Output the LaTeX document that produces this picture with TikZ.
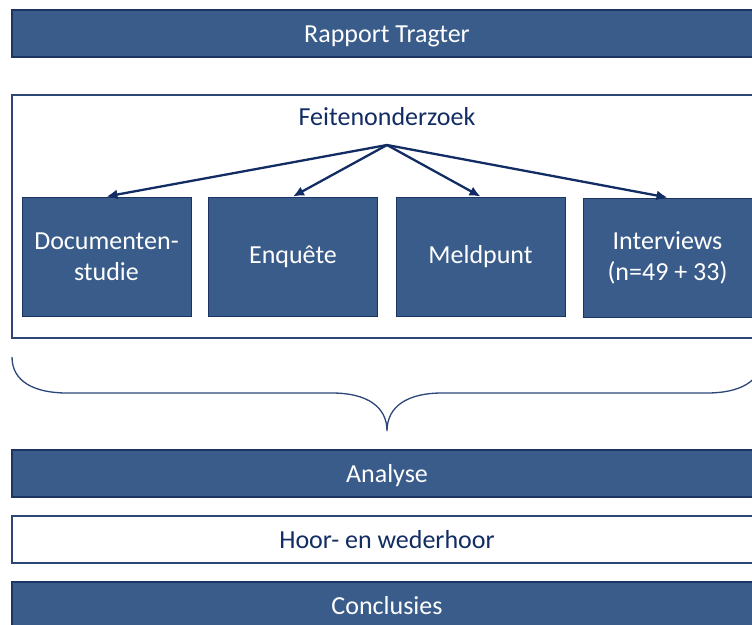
\documentclass[tikz,border=0pt]{standalone}
\usepackage{fontspec}
\setmainfont{Carlito}
\usetikzlibrary{arrows.meta}
\definecolor{boxfill}{RGB}{58,92,139}
\definecolor{boxline}{RGB}{28,52,100}
\definecolor{navy}{RGB}{18,44,100}
\definecolor{frameline}{RGB}{44,70,120}
\tikzset{
  bar/.style={draw=boxline, line width=1.3pt, fill=boxfill, text=white,
    minimum width=750pt, minimum height=47pt, inner sep=0pt,
    text height=18pt, text depth=1pt,
    font=\fontsize{26}{31}\selectfont},
  wbar/.style={draw=frameline, line width=1.3pt, fill=white, text=navy,
    minimum width=750pt, minimum height=47pt, inner sep=0pt,
    text height=18pt, text depth=1pt,
    font=\fontsize{26}{31}\selectfont},
  sbox/.style={draw=boxline, line width=1pt, fill=boxfill, text=white,
    minimum width=169pt, minimum height=119pt, inner sep=0pt, align=center,
    font=\fontsize{26}{31}\selectfont},
  arr/.style={draw=navy, line width=2.3pt, -{Latex[length=11pt,width=10pt]}},
  bracel/.style={draw=frameline, line width=1.3pt},
}
\begin{document}
\begin{tikzpicture}[x=1pt,y=-1pt]
\useasboundingbox (0,0) rectangle (752,624);
\clip (0,0) rectangle (752,624);
\fill[white] (0,0) rectangle (752,624);
% top bar
\node[bar] (rapport) at (387,33.5) {Rapport Tragter};
% frame
\node[draw=frameline, line width=1.2pt, fill=white, minimum width=750pt, minimum height=243pt, inner sep=0pt] (frame) at (387,216.5) {};
\node[text=navy, font=\fontsize{26}{31}\selectfont, inner sep=0pt] (feiten) at (387,117) {Feitenonderzoek};
\coordinate (src) at (387,145);
% four boxes
\node[sbox] (doc) at (106.5,256.5) {Documenten-\\studie};
\node[sbox] (enq) at (293,256.5) {Enquête};
\node[sbox] (mel) at (480.5,256.5) {Meldpunt};
\node[sbox] (int) at (667.5,257.5) {Interviews\\(n=49 + 33)};
% arrows
\draw[arr] (src) -- (doc.north);
\draw[arr] (src) -- (enq.north);
\draw[arr] (src) -- (mel.north);
\draw[arr] (src) -- (int.north);
% brace
\coordinate (bl) at (12,357);
\coordinate (br) at (762,357);
\coordinate (btip) at (387,431);
\draw[bracel] (bl) .. controls (12,382) and (35,393) .. (67,393) -- (332,393)
  .. controls (366,393) and (387,406) .. (btip)
  .. controls (387,406) and (408,393) .. (442,393) -- (707,393)
  .. controls (739,393) and (762,382) .. (br);
% lower bars
\node[bar] (analyse) at (387,473.5) {Analyse};
\node[wbar] (hoor) at (387,539.5) {Hoor- en wederhoor};
\node[bar] (concl) at (387,605.5) {Conclusies};
\end{tikzpicture}
\end{document}
